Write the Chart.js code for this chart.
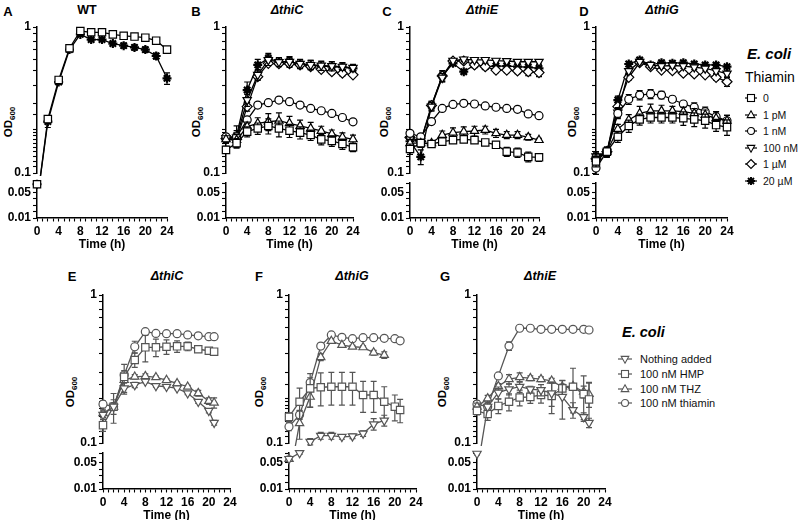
<!DOCTYPE html>
<html>
<head>
<meta charset="utf-8">
<script src="https://cdn.jsdelivr.net/npm/chart.js@4.4.1/dist/chart.umd.min.js"></script>
<style>
  body { margin: 0; background: #fff; font-family: "Liberation Sans", Arial, sans-serif; }
  #fig { position: relative; width: 800px; height: 520px; overflow: hidden; background: #fff; }
  #fig canvas { position: absolute; }
  .txt { position: absolute; white-space: nowrap; color: #000; transform: translate(-50%, -50%); line-height: 1; }
  .letter { font-weight: bold; font-size: 13px; }
  .title { font-weight: bold; font-style: italic; font-size: 12.5px; }
  .ytitle { font-weight: bold; font-size: 11.5px; transform: translate(-50%, -50%) rotate(-90deg); }
  .ytitle sub { font-size: 8px; }
  .leg { position: absolute; white-space: nowrap; line-height: 1; }
  .legrow { position: absolute; display: flex; align-items: center; transform: translateY(-50%); white-space: nowrap; }
  .legrow svg { display: block; }
</style>
</head>
<body>
<div id="fig">
  <div class="txt letter" style="left:8px;top:11px">A</div>
  <div class="txt letter" style="left:196px;top:11px">B</div>
  <div class="txt letter" style="left:387px;top:11px">C</div>
  <div class="txt letter" style="left:584px;top:11px">D</div>
  <div class="txt letter" style="left:72px;top:276px">E</div>
  <div class="txt letter" style="left:259px;top:276px">F</div>
  <div class="txt letter" style="left:445px;top:276px">G</div>

  <div class="txt title" style="left:87px;top:10px;font-style:normal">WT</div>
  <div class="txt title" style="left:287px;top:10px">ΔthiC</div>
  <div class="txt title" style="left:482px;top:10px">ΔthiE</div>
  <div class="txt title" style="left:662px;top:10px">ΔthiG</div>
  <div class="txt title" style="left:167px;top:276px">ΔthiC</div>
  <div class="txt title" style="left:352px;top:276px">ΔthiG</div>
  <div class="txt title" style="left:540px;top:276px">ΔthiE</div>

  <div class="txt ytitle" style="left:10px;top:122px">OD<sub>600</sub></div>
  <div class="txt ytitle" style="left:198px;top:122px">OD<sub>600</sub></div>
  <div class="txt ytitle" style="left:386px;top:122px">OD<sub>600</sub></div>
  <div class="txt ytitle" style="left:574px;top:122px">OD<sub>600</sub></div>
  <div class="txt ytitle" style="left:72px;top:392px">OD<sub>600</sub></div>
  <div class="txt ytitle" style="left:261px;top:392px">OD<sub>600</sub></div>
  <div class="txt ytitle" style="left:444px;top:392px">OD<sub>600</sub></div>

  <div class="leg" style="left:747px;top:46px;font-size:15px;font-weight:bold;font-style:italic">E. coli</div>
  <div class="leg" style="left:745px;top:70px;font-size:14px">Thiamin</div>
  <div class="leg" style="left:622px;top:325px;font-size:14.5px;font-weight:bold;font-style:italic">E. coli</div>
</div>

<script>
// time points (h)
const hoursTop = [0, 2, 4, 6, 8, 10, 12, 14, 16, 18, 20, 22, 24];
const hoursBottom = [0, 2, 4, 6, 8, 10, 12, 14, 16, 18, 20, 21];

// legend labels
const thiaminLabels = ['0', '1 pM', '1 nM', '100 nM', '1 µM', '20 µM'];
const supplementLabels = ['Nothing added', '100 nM HMP', '100 nM THZ', '100 nM thiamin'];

// tick labels
const xTickLabels = [0, 4, 8, 12, 16, 20, 24];
const yTicksUpper = [0.1, 1];
const yTicksLower = [0.01, 0.05];

// A: WT
const wt_0 = [0.063, 0.234, 0.434, 0.715, 0.939, 0.92, 0.92, 0.89, 0.87, 0.86, 0.845, 0.806, 0.70];
const wt_0_sd = [0.002, 0.01, 0.01, 0.02, 0.015, 0.01, 0.01, 0.01, 0.01, 0.01, 0.01, 0.01, 0.02];
const wt_20uM = [0.063, 0.225, 0.42, 0.70, 0.89, 0.82, 0.82, 0.77, 0.745, 0.725, 0.70, 0.633, 0.445];
const wt_20uM_sd = [0.002, 0.02, 0.01, 0.02, 0.02, 0.01, 0.01, 0.02, 0.03, 0.03, 0.03, 0.03, 0.04];

// B: thiC
const thiC_0 = [0.144, 0.16, 0.192, 0.202, 0.21, 0.202, 0.195, 0.189, 0.182, 0.17, 0.166, 0.158, 0.15];
const thiC_0_sd = [0.008, 0.012, 0.015, 0.018, 0.025, 0.025, 0.02, 0.018, 0.015, 0.014, 0.014, 0.013, 0.01];
const thiC_1pM = [0.17, 0.168, 0.208, 0.219, 0.225, 0.228, 0.219, 0.21, 0.202, 0.194, 0.185, 0.176, 0.17];
const thiC_1pM_sd = [0.01, 0.015, 0.015, 0.02, 0.03, 0.03, 0.025, 0.02, 0.02, 0.015, 0.012, 0.012, 0.012];
const thiC_1nM = [0.177, 0.177, 0.231, 0.292, 0.303, 0.316, 0.308, 0.292, 0.277, 0.267, 0.256, 0.24, 0.224];
const thiC_1nM_sd = [0.005, 0.005, 0.006, 0.005, 0.005, 0.005, 0.005, 0.005, 0.005, 0.005, 0.005, 0.005, 0.005];
const thiC_100nM = [0.174, 0.175, 0.316, 0.47, 0.595, 0.575, 0.578, 0.56, 0.55, 0.545, 0.54, 0.535, 0.525];
const thiC_100nM_sd = [0.01, 0.02, 0.03, 0.04, 0.05, 0.04, 0.05, 0.04, 0.04, 0.04, 0.04, 0.03, 0.03];
const thiC_1uM = [0.172, 0.17, 0.285, 0.457, 0.564, 0.56, 0.56, 0.55, 0.536, 0.513, 0.494, 0.482, 0.47];
const thiC_1uM_sd = [0.01, 0.01, 0.02, 0.02, 0.02, 0.02, 0.02, 0.02, 0.02, 0.02, 0.02, 0.02, 0.01];
const thiC_20uM = [0.17, 0.18, 0.37, 0.55, 0.61, 0.578, 0.58, 0.558, 0.55, 0.54, 0.536, 0.53, 0.52];
const thiC_20uM_sd = [0.01, 0.03, 0.05, 0.05, 0.05, 0.04, 0.04, 0.04, 0.04, 0.04, 0.04, 0.04, 0.03];

// C: thiE
const thiE_0 = [0.146, 0.16, 0.158, 0.164, 0.168, 0.17, 0.168, 0.162, 0.156, 0.14, 0.138, 0.129, 0.128];
const thiE_0_sd = [0.012, 0.01, 0.005, 0.005, 0.005, 0.006, 0.005, 0.005, 0.006, 0.01, 0.01, 0.01, 0.008];
const thiE_1pM = [0.16, 0.16, 0.16, 0.182, 0.189, 0.192, 0.194, 0.197, 0.187, 0.182, 0.182, 0.176, 0.168];
const thiE_1pM_sd = [0.01, 0.01, 0.005, 0.012, 0.015, 0.015, 0.015, 0.012, 0.012, 0.01, 0.01, 0.008, 0.005];
const thiE_1nM = [0.187, 0.177, 0.225, 0.277, 0.295, 0.30, 0.297, 0.288, 0.282, 0.277, 0.273, 0.254, 0.247];
const thiE_1nM_sd = [0.005, 0.005, 0.005, 0.005, 0.005, 0.005, 0.005, 0.005, 0.008, 0.01, 0.008, 0.005, 0.005];
const thiE_100nM = [0.17, 0.165, 0.285, 0.45, 0.588, 0.60, 0.595, 0.595, 0.588, 0.585, 0.578, 0.578, 0.578];
const thiE_100nM_sd = [0.01, 0.01, 0.02, 0.03, 0.02, 0.02, 0.02, 0.02, 0.02, 0.02, 0.02, 0.02, 0.02];
const thiE_1uM = [0.175, 0.165, 0.29, 0.462, 0.585, 0.585, 0.55, 0.535, 0.507, 0.507, 0.50, 0.494, 0.487];
const thiE_1uM_sd = [0.01, 0.01, 0.02, 0.03, 0.02, 0.02, 0.02, 0.02, 0.02, 0.02, 0.02, 0.03, 0.03];
const thiE_20uM = [0.165, 0.129, 0.29, 0.462, 0.564, 0.494, 0.55, 0.535, 0.54, 0.54, 0.535, 0.53, 0.52];
const thiE_20uM_sd = [0.01, 0.015, 0.02, 0.04, 0.02, 0.01, 0.02, 0.02, 0.02, 0.03, 0.03, 0.03, 0.03];

// D: thiG
const thiG_0 = [0.12, 0.14, 0.177, 0.21, 0.233, 0.24, 0.24, 0.24, 0.237, 0.233, 0.228, 0.213, 0.206];
const thiG_0_sd = [0.01, 0.01, 0.015, 0.02, 0.02, 0.02, 0.02, 0.02, 0.025, 0.025, 0.025, 0.02, 0.025];
const thiG_1pM = [0.125, 0.14, 0.2, 0.231, 0.256, 0.266, 0.266, 0.266, 0.263, 0.256, 0.25, 0.237, 0.228];
const thiG_1pM_sd = [0.01, 0.01, 0.015, 0.02, 0.03, 0.03, 0.025, 0.02, 0.02, 0.02, 0.02, 0.025, 0.02];
const thiG_1nM = [0.108, 0.14, 0.256, 0.32, 0.342, 0.348, 0.342, 0.32, 0.297, 0.282, 0.263, 0.243, 0.228];
const thiG_1nM_sd = [0.01, 0.01, 0.02, 0.025, 0.025, 0.025, 0.02, 0.015, 0.01, 0.02, 0.02, 0.02, 0.02];
const thiG_100nM = [0.13, 0.14, 0.26, 0.5, 0.578, 0.55, 0.54, 0.545, 0.54, 0.53, 0.52, 0.50, 0.48];
const thiG_100nM_sd = [0.01, 0.01, 0.02, 0.02, 0.02, 0.02, 0.02, 0.02, 0.02, 0.02, 0.02, 0.02, 0.02];
const thiG_1uM = [0.125, 0.14, 0.285, 0.452, 0.57, 0.535, 0.507, 0.502, 0.482, 0.477, 0.47, 0.452, 0.422];
const thiG_1uM_sd = [0.01, 0.01, 0.02, 0.02, 0.02, 0.015, 0.015, 0.015, 0.015, 0.015, 0.015, 0.02, 0.03];
const thiG_20uM = [0.129, 0.138, 0.316, 0.558, 0.595, 0.55, 0.57, 0.565, 0.57, 0.558, 0.55, 0.55, 0.535];
const thiG_20uM_sd = [0.01, 0.01, 0.02, 0.02, 0.02, 0.015, 0.015, 0.015, 0.015, 0.015, 0.015, 0.015, 0.015];

// E: thiC + precursors
const eThiC_none = [0.155, 0.176, 0.234, 0.247, 0.26, 0.243, 0.24, 0.234, 0.217, 0.19, 0.165, 0.137];
const eThiC_none_sd = [0.01, 0.01, 0.02, 0.01, 0.005, 0.005, 0.005, 0.005, 0.005, 0.005, 0.005, 0.005];
const eThiC_hmp = [0.132, 0.176, 0.28, 0.364, 0.443, 0.443, 0.447, 0.45, 0.45, 0.43, 0.42, 0.414];
const eThiC_hmp_sd = [0.012, 0.04, 0.06, 0.04, 0.09, 0.06, 0.05, 0.04, 0.03, 0.01, 0.02, 0.02];
const eThiC_thz = [0.159, 0.176, 0.266, 0.28, 0.283, 0.278, 0.266, 0.253, 0.24, 0.217, 0.192, 0.187];
const eThiC_thz_sd = [0.01, 0.02, 0.03, 0.01, 0.01, 0.005, 0.005, 0.005, 0.005, 0.01, 0.01, 0.015];
const eThiC_thi = [0.183, 0.176, 0.288, 0.447, 0.565, 0.55, 0.548, 0.548, 0.537, 0.53, 0.523, 0.523];
const eThiC_thi_sd = [0.01, 0.01, 0.02, 0.04, 0.01, 0.01, 0.01, 0.01, 0.01, 0.01, 0.01, 0.01];

// F: thiG + precursors
const fThiG_none = [0.056, 0.065, 0.102, 0.112, 0.112, 0.11, 0.111, 0.116, 0.134, 0.142, null, null];
const fThiG_none_sd = [0.004, 0.002, 0.005, 0.006, 0.006, 0.004, 0.004, 0.005, 0.012, 0.012, 0, 0];
const fThiG_hmp = [0.15, 0.19, 0.234, 0.238, 0.24, 0.24, 0.24, 0.211, 0.211, 0.19, 0.176, 0.167];
const fThiG_hmp_sd = [0.01, 0.045, 0.06, 0.06, 0.06, 0.06, 0.06, 0.05, 0.05, 0.05, 0.035, 0.03];
const fThiG_thz = [0.056, 0.136, 0.205, 0.38, 0.489, 0.459, 0.447, 0.443, 0.408, 0.393, null, null];
const fThiG_thz_sd = [0.003, 0.03, 0.03, 0.02, 0.015, 0.01, 0.01, 0.01, 0.015, 0.02, 0, 0];
const fThiG_thi = [0.129, 0.155, 0.256, 0.452, 0.537, 0.518, 0.507, 0.515, 0.515, 0.51, 0.507, 0.49];
const fThiG_thi_sd = [0.008, 0.01, 0.02, 0.02, 0.01, 0.01, 0.01, 0.01, 0.01, 0.01, 0.01, 0.01];

// G: thiE + precursors
const gThiE_none = [0.064, 0.176, 0.219, 0.231, 0.24, 0.231, 0.228, 0.217, 0.205, 0.167, 0.15, 0.137];
const gThiE_none_sd = [0.002, 0.01, 0.02, 0.02, 0.02, 0.01, 0.02, 0.04, 0.06, 0.02, 0.01, 0.01];
const gThiE_hmp = [0.165, 0.157, 0.178, 0.19, 0.203, 0.205, 0.211, 0.208, 0.234, 0.24, 0.214, 0.197];
const gThiE_hmp_sd = [0.01, 0.015, 0.02, 0.025, 0.025, 0.02, 0.025, 0.05, 0.03, 0.08, 0.07, 0.06];
const gThiE_thz = [0.176, 0.2, 0.242, 0.27, 0.278, 0.274, 0.27, 0.263, 0.24, 0.242, 0.222, 0.214];
const gThiE_thz_sd = [0.01, 0.01, 0.01, 0.02, 0.02, 0.01, 0.01, 0.01, 0.01, 0.01, 0.02, 0.04];
const gThiE_thi = [0.183, 0.176, 0.284, 0.452, 0.596, 0.596, 0.586, 0.586, 0.586, 0.586, 0.586, 0.58];
const gThiE_thi_sd = [0.01, 0.01, 0.01, 0.03, 0.01, 0.02, 0.01, 0.01, 0.01, 0.01, 0.01, 0.01];

const markers = {
  square:  { pointStyle: 'rect', radius: 5.2, rotation: 0 },
  up:      { pointStyle: 'triangle', radius: 4.8, rotation: 0 },
  circle:  { pointStyle: 'circle', radius: 4, rotation: 0 },
  down:    { pointStyle: 'triangle', radius: 4.8, rotation: 180 },
  diamond: { pointStyle: 'rectRot', radius: 5, rotation: 0 },
  star:    { pointStyle: 'star', radius: 4.5, rotation: 0 }
};
const topMarkers = [markers.square, markers.up, markers.circle, markers.down, markers.diamond, markers.star];
const bottomMarkers = [markers.down, markers.square, markers.up, markers.circle];

function seriesList(labels, markerList, values, sds) {
  return labels.map((label, i) => ({ label, marker: markerList[i], values: values[i], sd: sds[i] }));
}

const rows = {
  top:    { top: 27, upper: 146, gap: 10, lower: 35 },
  bottom: { top: 295, upper: 148, gap: 10, lower: 36 }
};

const panels = [
  { axisX: 37, plotW: 130, row: 'top', hours: hoursTop, color: '#000',
    series: seriesList([thiaminLabels[0], thiaminLabels[5]], [markers.square, markers.star],
      [wt_0, wt_20uM], [wt_0_sd, wt_20uM_sd]) },
  { axisX: 226, plotW: 127, row: 'top', hours: hoursTop, color: '#000',
    series: seriesList(thiaminLabels, topMarkers,
      [thiC_0, thiC_1pM, thiC_1nM, thiC_100nM, thiC_1uM, thiC_20uM],
      [thiC_0_sd, thiC_1pM_sd, thiC_1nM_sd, thiC_100nM_sd, thiC_1uM_sd, thiC_20uM_sd]) },
  { axisX: 410, plotW: 129, row: 'top', hours: hoursTop, color: '#000',
    series: seriesList(thiaminLabels, topMarkers,
      [thiE_0, thiE_1pM, thiE_1nM, thiE_100nM, thiE_1uM, thiE_20uM],
      [thiE_0_sd, thiE_1pM_sd, thiE_1nM_sd, thiE_100nM_sd, thiE_1uM_sd, thiE_20uM_sd]) },
  { axisX: 596, plotW: 131, row: 'top', hours: hoursTop, color: '#000',
    series: seriesList(thiaminLabels, topMarkers,
      [thiG_0, thiG_1pM, thiG_1nM, thiG_100nM, thiG_1uM, thiG_20uM],
      [thiG_0_sd, thiG_1pM_sd, thiG_1nM_sd, thiG_100nM_sd, thiG_1uM_sd, thiG_20uM_sd]) },
  { axisX: 103, plotW: 127, row: 'bottom', hours: hoursBottom, color: '#555',
    series: seriesList(supplementLabels, bottomMarkers,
      [eThiC_none, eThiC_hmp, eThiC_thz, eThiC_thi],
      [eThiC_none_sd, eThiC_hmp_sd, eThiC_thz_sd, eThiC_thi_sd]) },
  { axisX: 289, plotW: 127, row: 'bottom', hours: hoursBottom, color: '#555',
    series: seriesList(supplementLabels, bottomMarkers,
      [fThiG_none, fThiG_hmp, fThiG_thz, fThiG_thi],
      [fThiG_none_sd, fThiG_hmp_sd, fThiG_thz_sd, fThiG_thi_sd]) },
  { axisX: 477, plotW: 128, row: 'bottom', hours: hoursBottom, color: '#555',
    series: seriesList(supplementLabels, bottomMarkers,
      [gThiE_none, gThiE_hmp, gThiE_thz, gThiE_thi],
      [gThiE_none_sd, gThiE_hmp_sd, gThiE_thz_sd, gThiE_thi_sd]) }
];

const Y_W = 34, X_H = 34, PAD_TOP = 10, PAD_RIGHT = 12, PAD_BOTTOM = 2;
const axisFont = { family: '"Liberation Sans", Arial, sans-serif', size: 12, weight: 'bold' };

function drawErrorBars(chart, ds, ys) {
  const xs = chart.scales.x, ctx = chart.ctx;
  ctx.save();
  ctx.strokeStyle = ds.borderColor;
  ctx.lineWidth = 1.2;
  ds.data.forEach((p, i) => {
    const e = ds.errors[i];
    if (p.y == null || !e) return;
    if (ds.yAxisID === 'y' && p.y < 0.1) return;
    const x = xs.getPixelForValue(p.x);
    const yHi = ys.getPixelForValue(p.y + e);
    const yLo = ys.getPixelForValue(Math.max(p.y - e, 0.011));
    ctx.beginPath();
    ctx.moveTo(x, yLo); ctx.lineTo(x, yHi);
    ctx.moveTo(x - 3, yHi); ctx.lineTo(x + 3, yHi);
    ctx.moveTo(x - 3, yLo); ctx.lineTo(x + 3, yLo);
    ctx.stroke();
  });
  ctx.restore();
}

// keeps each dataset inside its own segment of the broken y axis
const segmentClip = {
  id: 'segmentClip',
  beforeDatasetDraw(chart, args) {
    const ds = chart.data.datasets[args.index];
    const ys = chart.scales[ds.yAxisID];
    const ca = chart.chartArea;
    const ctx = chart.ctx;
    const top = ds.yAxisID === 'y' ? ca.top - 10 : ys.top - 6;
    const bottom = ds.yAxisID === 'y' ? ys.bottom + 3 : ca.bottom + 8;
    ctx.save();
    ctx.beginPath();
    ctx.rect(ca.left - 12, top, ca.width + 24, bottom - top);
    ctx.clip();
    drawErrorBars(chart, ds, ys);
  },
  afterDatasetDraw(chart) {
    chart.ctx.restore();
  }
};

function buildDatasets(hours, list, color) {
  const out = [];
  list.forEach(s => {
    const m = s.marker;
    const isStar = m.pointStyle === 'star';
    const upper = hours.map((h, i) => ({ x: h, y: s.values[i] }));
    const lower = hours.map((h, i) => ({ x: h, y: s.values[i] != null && s.values[i] < 0.1 ? s.values[i] : null }));
    const common = {
      borderColor: color,
      borderWidth: 1.3,
      pointStyle: m.pointStyle,
      pointRotation: m.rotation,
      pointBorderColor: color,
      pointBackgroundColor: isStar ? color : '#fff',
      pointBorderWidth: isStar ? 2.2 : 1.2,
      pointHoverRadius: 0,
      tension: 0,
      spanGaps: false,
      clip: false,
      errors: s.sd
    };
    out.push(Object.assign({}, common, {
      label: s.label, data: upper, yAxisID: 'y',
      pointRadius: upper.map(p => (p.y != null && p.y >= 0.1 ? m.radius : 0))
    }));
    out.push(Object.assign({}, common, {
      label: s.label, data: lower, yAxisID: 'y2', pointRadius: m.radius
    }));
  });
  return out;
}

function matchTick(list, v) {
  const t = list.find(t => Math.abs(t - v) < t * 1e-6);
  return t === undefined ? '' : String(t);
}

function yAxisBase() {
  return {
    position: 'left', stack: 'od', axis: 'y',
    afterFit: s => { s.width = Y_W; },
    grid: { drawOnChartArea: false, tickLength: 4, color: '#000', tickWidth: 1.1 },
    border: { color: '#000', width: 1.5 }
  };
}

const fig = document.getElementById('fig');

panels.forEach(p => {
  const r = rows[p.row];
  const canvas = document.createElement('canvas');
  const w = Y_W + p.plotW + PAD_RIGHT;
  const plotH = r.upper + r.gap + r.lower;
  const h = PAD_TOP + plotH + X_H + PAD_BOTTOM;
  canvas.width = w;
  canvas.height = h;
  canvas.style.left = (p.axisX - Y_W) + 'px';
  canvas.style.top = (r.top - PAD_TOP) + 'px';
  canvas.style.width = w + 'px';
  canvas.style.height = h + 'px';
  fig.appendChild(canvas);

  new Chart(canvas, {
    type: 'line',
    data: { datasets: buildDatasets(p.hours, p.series, p.color) },
    options: {
      responsive: false,
      animation: false,
      events: [],
      layout: { padding: { top: PAD_TOP, right: PAD_RIGHT, bottom: PAD_BOTTOM, left: 0 } },
      plugins: { legend: { display: false }, tooltip: { enabled: false } },
      scales: {
        x: {
          type: 'linear', min: 0, max: 24,
          afterFit: s => { s.height = X_H; },
          ticks: {
            stepSize: 1, autoSkip: false, maxRotation: 0, padding: 3, color: '#000', font: axisFont,
            callback: v => (xTickLabels.includes(v) ? String(v) : '')
          },
          grid: { drawOnChartArea: false, tickLength: 3.5, color: '#000', tickWidth: 1.1 },
          border: { color: '#000', width: 1.5 },
          title: { display: true, text: 'Time (h)', font: axisFont, color: '#000', padding: 0 }
        },
        y2: Object.assign(yAxisBase(), {
          type: 'linear', min: 0.01, max: 0.065, stackWeight: r.lower,
          ticks: { stepSize: 0.01, autoSkip: false, padding: 2, color: '#000', font: axisFont,
            callback: v => matchTick(yTicksLower, v) }
        }),
        gap: {
          type: 'linear', position: 'left', stack: 'od', axis: 'y', stackWeight: r.gap,
          afterFit: s => { s.width = Y_W; },
          ticks: { display: false }, grid: { display: false }, border: { display: false }
        },
        y: Object.assign(yAxisBase(), {
          type: 'logarithmic', min: 0.1, max: 1, stackWeight: r.upper,
          ticks: { autoSkip: false, padding: 2, color: '#000', font: axisFont,
            callback: v => matchTick(yTicksUpper, v) }
        })
      }
    },
    plugins: [segmentClip]
  });
});

// legends
function markerSvg(m, color, w) {
  const cx = w / 2, cy = 6;
  let shape = '';
  if (m.pointStyle === 'rect') shape = `<rect x="${cx - 3.5}" y="${cy - 3.5}" width="7" height="7"/>`;
  else if (m.pointStyle === 'circle') shape = `<circle cx="${cx}" cy="${cy}" r="3.5"/>`;
  else if (m.pointStyle === 'triangle' && !m.rotation) shape = `<polygon points="${cx},${cy - 4.2} ${cx + 3.8},${cy + 2.6} ${cx - 3.8},${cy + 2.6}"/>`;
  else if (m.pointStyle === 'triangle') shape = `<polygon points="${cx},${cy + 4.2} ${cx + 3.8},${cy - 2.6} ${cx - 3.8},${cy - 2.6}"/>`;
  else if (m.pointStyle === 'rectRot') shape = `<polygon points="${cx},${cy - 4.5} ${cx + 4.5},${cy} ${cx},${cy + 4.5} ${cx - 4.5},${cy}"/>`;
  else if (m.pointStyle === 'star') shape = `<path d="M${cx} ${cy - 4}V${cy + 4}M${cx - 4} ${cy}H${cx + 4}M${cx - 3} ${cy - 3}L${cx + 3} ${cy + 3}M${cx - 3} ${cy + 3}L${cx + 3} ${cy - 3}" stroke-width="1.9"/>`;
  return `<svg width="${w}" height="12"><line x1="0" y1="6" x2="${w}" y2="6" stroke="${color}" stroke-width="1.2"/>` +
    `<g fill="#fff" stroke="${color}" stroke-width="1.1">${shape}</g></svg>`;
}

function addLegend(labels, markerList, color, left, y0, step, gap, fontSize, w) {
  labels.forEach((label, i) => {
    const row = document.createElement('div');
    row.className = 'legrow';
    row.style.left = left + 'px';
    row.style.top = (y0 + i * step) + 'px';
    row.style.fontSize = fontSize + 'px';
    row.innerHTML = markerSvg(markerList[i], color, w) + `<span style="margin-left:${gap}px;color:#111">${label}</span>`;
    fig.appendChild(row);
  });
}

addLegend(thiaminLabels, topMarkers, '#000', 745, 98, 16.6, 6, 10.5, 12);
addLegend(supplementLabels, bottomMarkers, '#555', 618, 359, 14.8, 8, 11, 14);
</script>
</body>
</html>
